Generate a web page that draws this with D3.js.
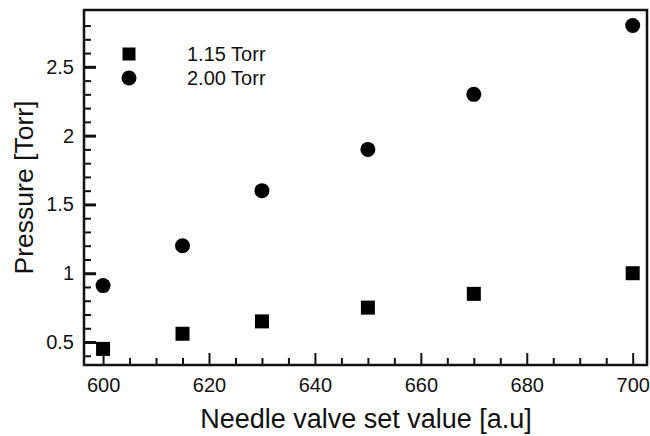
<!DOCTYPE html>
<html>
<head>
<meta charset="utf-8">
<script src="https://cdn.jsdelivr.net/npm/d3@7"></script>
<style>
  body { margin: 0; background: #fff; }
  text { font-family: "Liberation Sans", Arial, Helvetica, sans-serif; fill: #111; }
</style>
</head>
<body>
<svg></svg>
<script>
let width = 650;
let height = 436;

let needle = [600, 615, 630, 650, 670, 700];
let low = [0.45, 0.56, 0.65, 0.75, 0.85, 1.0];     // 1.15 Torr
let high = [0.91, 1.2, 1.6, 1.9, 2.3, 2.8];        // 2.00 Torr
let seriesNames = ['1.15 Torr', '2.00 Torr'];
let xTicks = [600, 620, 640, 660, 680, 700];
let yTicks = [0.5, 1, 1.5, 2, 2.5];

let margin = {left: 84, right: 3, top: 10, bottom: 71};

let x = d3.scaleLinear()
    .domain([596.4, 702.7])
    .range([margin.left, width - margin.right]);

let y = d3.scaleLinear()
    .domain([0.333, 2.913])
    .range([height - margin.bottom, margin.top]);

let svg = d3.select('svg')
    .attr('width', width)
    .attr('height', height);

// minor ticks, pointing inward
let xMinor = d3.range(600, 701, 5).filter(v => xTicks.indexOf(v) === -1);
let yMinor = d3.range(4, 29).map(v => v / 10).filter(v => yTicks.indexOf(v) === -1);

let bottom = height - margin.bottom;

svg.append('g')
    .attr('transform', `translate(0 ${bottom})`)
    .call(d3.axisBottom(x).tickValues(xMinor).tickSize(-7).tickFormat(''))
    .call(g => g.select('.domain').remove())
    .call(g => g.selectAll('line').attr('stroke', '#111').attr('stroke-width', 2));

svg.append('g')
    .attr('transform', `translate(0 ${bottom})`)
    .call(d3.axisBottom(x).tickValues(xTicks).tickSize(-12).tickPadding(13))
    .call(g => g.select('.domain').remove())
    .call(g => g.selectAll('line').attr('stroke', '#111').attr('stroke-width', 2))
    .call(g => g.selectAll('text').attr('font-size', 20).attr('dy', '0.71em'));

svg.append('g')
    .attr('transform', `translate(${margin.left} 0)`)
    .call(d3.axisLeft(y).tickValues(yMinor).tickSize(-7).tickFormat(''))
    .call(g => g.select('.domain').remove())
    .call(g => g.selectAll('line').attr('stroke', '#111').attr('stroke-width', 2));

svg.append('g')
    .attr('transform', `translate(${margin.left} 0)`)
    .call(d3.axisLeft(y).tickValues(yTicks).tickSize(-12).tickPadding(10).tickFormat(d3.format('')))
    .call(g => g.select('.domain').remove())
    .call(g => g.selectAll('line').attr('stroke', '#111').attr('stroke-width', 3))
    .call(g => g.selectAll('text').attr('font-size', 20));

// frame
svg.append('rect')
    .attr('x', margin.left)
    .attr('y', margin.top)
    .attr('width', width - margin.left - margin.right)
    .attr('height', height - margin.top - margin.bottom)
    .attr('fill', 'none')
    .attr('stroke', '#111')
    .attr('stroke-width', 2.5);

// points
let sq = 14;
svg.append('g')
    .selectAll('rect')
    .data(needle.map((n, i) => ({n: n, p: low[i]})))
    .enter()
    .append('rect')
        .attr('x', d => x(d.n) - sq / 2)
        .attr('y', d => y(d.p) - sq / 2)
        .attr('width', sq)
        .attr('height', sq)
        .attr('fill', '#000');

svg.append('g')
    .selectAll('circle')
    .data(needle.map((n, i) => ({n: n, p: high[i]})))
    .enter()
    .append('circle')
        .attr('cx', d => x(d.n))
        .attr('cy', d => y(d.p))
        .attr('r', 7.5)
        .attr('fill', '#000');

// legend
let legend = svg.append('g');
legend.append('rect')
    .attr('x', 129 - 6.5).attr('y', 54 - 6.5)
    .attr('width', 13).attr('height', 13)
    .attr('fill', '#000');
legend.append('circle')
    .attr('cx', 129).attr('cy', 78).attr('r', 7.5)
    .attr('fill', '#000');
legend.selectAll('text')
    .data(seriesNames)
    .enter()
    .append('text')
        .attr('x', 187)
        .attr('y', (d, i) => 54 + i * 24)
        .attr('dy', '0.36em')
        .attr('font-size', 20)
        .text(d => d);

// axis titles
svg.append('text')
    .attr('x', 366)
    .attr('y', 428)
    .attr('text-anchor', 'middle')
    .attr('font-size', 27)
    .text('Needle valve set value [a.u]');

svg.append('text')
    .attr('transform', `translate(33 ${(margin.top + bottom) / 2}) rotate(-90)`)
    .attr('text-anchor', 'middle')
    .attr('font-size', 26.5)
    .text('Pressure [Torr]');
</script>
</body>
</html>
